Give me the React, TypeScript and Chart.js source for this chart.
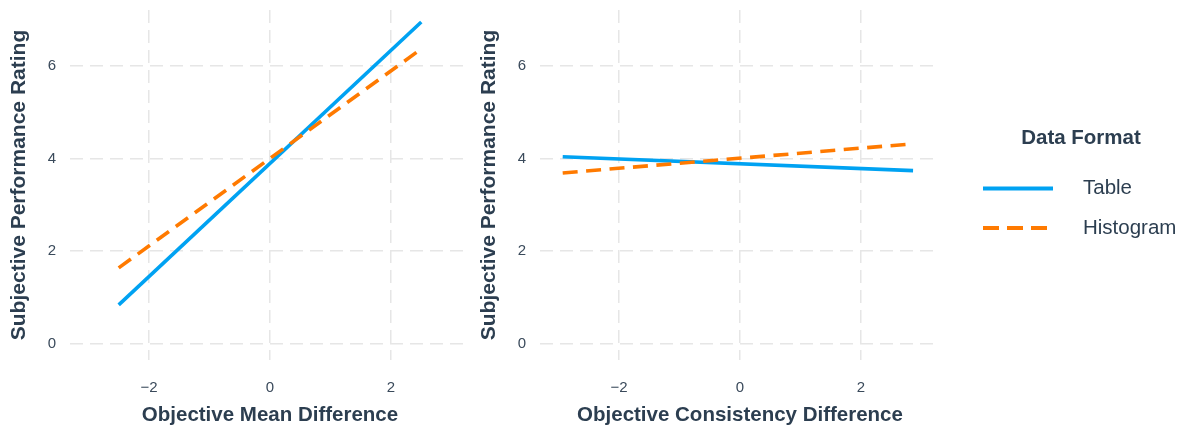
import React, { useEffect, useRef } from "react";
import { Chart, registerables } from "chart.js";

Chart.register(...registerables);

// ---- data ----
const meanX = [-2.5, 2.5];
const meanTable = [0.84, 6.95];
const meanHistogram = [1.64, 6.37];

const consX = [-2.93, 2.86];
const consTable = [4.04, 3.74];
const consHistogram = [3.69, 4.32];

const xTicks = [-2, 0, 2];
const yTicks = [0, 2, 4, 6];
const seriesLabels = ["Table", "Histogram"];
const legendTitle = "Data Format";
const yTitle = "Subjective Performance Rating";
const xTitleMean = "Objective Mean Difference";
const xTitleCons = "Objective Consistency Difference";

// ---- styles ----
const BLUE = "#00A2F2";
const ORANGE = "#FF7A00";
const FONT = "'Liberation Sans', Arial, Helvetica, sans-serif";
const TEXT = "#2C3E50";
const TICK = "#3A4A5B";
const GRID = "#E6E6E6";

const fmt = (v: number) => (v < 0 ? "\u2212" + Math.abs(v) : String(v));

const legendPlugin = {
  id: "sideLegend",
  afterDraw(chart: any, _args: any, opts: any) {
    if (!opts || !opts.show) return;
    const ctx = chart.ctx;
    const r = chart.chartArea.right;
    ctx.save();
    ctx.fillStyle = TEXT;
    ctx.font = `bold 20.5px ${FONT}`;
    ctx.textAlign = "center";
    ctx.textBaseline = "middle";
    ctx.fillText(legendTitle, r + 141, 138.5);
    seriesLabels.forEach((lab, i) => {
      const ds = chart.data.datasets.find((d: any) => d.label === lab);
      if (!ds) return;
      const y = 188.5 + i * 39.5;
      ctx.strokeStyle = ds.borderColor;
      ctx.lineWidth = 4;
      ctx.lineCap = "butt";
      ctx.setLineDash(ds.borderDash && ds.borderDash.length ? [16, 8] : []);
      ctx.beginPath();
      ctx.moveTo(r + 43, y);
      ctx.lineTo(r + 113, y);
      ctx.stroke();
      ctx.setLineDash([]);
      ctx.font = `20.5px ${FONT}`;
      ctx.textAlign = "left";
      ctx.fillStyle = TEXT;
      ctx.fillText(lab, r + 143, y);
    });
    ctx.restore();
  },
};

const zeroPad = (s: any) => {
  s.paddingTop = 0;
  s.paddingBottom = 0;
  s.paddingLeft = 0;
  s.paddingRight = 0;
};

function makeConfig(
  xs: number[],
  table: number[],
  hist: number[],
  xTitle: string,
  withLegend: boolean
): any {
  return {
    type: "line",
    data: {
      datasets: [
        {
          label: seriesLabels[0],
          data: xs.map((x, i) => ({ x, y: table[i] })),
          borderColor: BLUE,
          backgroundColor: BLUE,
          borderWidth: 3.6,
          pointRadius: 0,
          fill: false,
          tension: 0,
          order: 1,
        },
        {
          label: seriesLabels[1],
          data: xs.map((x, i) => ({ x, y: hist[i] })),
          borderColor: ORANGE,
          backgroundColor: ORANGE,
          borderWidth: 3.6,
          borderDash: [15, 8.5],
          pointRadius: 0,
          fill: false,
          tension: 0,
          order: 0,
        },
      ],
    },
    plugins: [legendPlugin],
    options: {
      responsive: false,
      animation: false,
      layout: { padding: { top: 10, left: 0, right: withLegend ? 242 : 0, bottom: 0 } },
      plugins: {
        legend: { display: false },
        tooltip: { enabled: false },
        sideLegend: { show: withLegend },
      },
      scales: {
        x: {
          type: "linear",
          min: -3.305,
          max: 3.305,
          afterBuildTicks: (s: any) => {
            s.ticks = xTicks.map((v) => ({ value: v }));
          },
          afterFit: (s: any) => {
            s.height = 73;
            zeroPad(s);
          },
          ticks: {
            callback: (v: any) => fmt(Number(v)),
            font: { family: FONT, size: 15 },
            color: TICK,
            padding: 19,
            maxRotation: 0,
            autoSkip: false,
          },
          grid: { color: GRID, lineWidth: 1.5, drawTicks: false },
          border: { display: false, dash: [13, 7] },
          title: {
            display: true,
            text: xTitle,
            color: TEXT,
            font: { family: FONT, size: 20.5, weight: "bold" },
            padding: { top: 0, bottom: 5 },
          },
        },
        y: {
          type: "linear",
          min: -0.35,
          max: 7.21,
          afterBuildTicks: (s: any) => {
            s.ticks = yTicks.map((v) => ({ value: v }));
          },
          afterFit: (s: any) => {
            s.width = 70;
            zeroPad(s);
          },
          ticks: {
            callback: (v: any) => fmt(Number(v)),
            font: { family: FONT, size: 15 },
            color: TICK,
            padding: 14,
            autoSkip: false,
          },
          grid: { color: GRID, lineWidth: 1.5, drawTicks: false },
          border: { display: false, dash: [13, 7] },
          title: {
            display: true,
            text: yTitle,
            color: TEXT,
            font: { family: FONT, size: 21, weight: "bold" },
            padding: { top: 7, bottom: 0 },
          },
        },
      },
    },
  };
}

function Panel(props: {
  left: number;
  width: number;
  xs: number[];
  table: number[];
  hist: number[];
  xTitle: string;
  withLegend: boolean;
}) {
  const ref = useRef<HTMLCanvasElement | null>(null);
  useEffect(() => {
    if (!ref.current) return;
    const chart = new Chart(
      ref.current,
      makeConfig(props.xs, props.table, props.hist, props.xTitle, props.withLegend)
    );
    return () => chart.destroy();
  }, []);
  return (
    <canvas
      ref={ref}
      width={props.width}
      height={433}
      style={{
        position: "absolute",
        left: props.left,
        top: 0,
        width: props.width,
        height: 433,
        display: "block",
      }}
    />
  );
}

export default function App() {
  return (
    <div
      style={{
        position: "absolute",
        left: 0,
        top: 0,
        width: 1182,
        height: 433,
        background: "#ffffff",
        overflow: "hidden",
      }}
    >
      <Panel
        left={0}
        width={470}
        xs={meanX}
        table={meanTable}
        hist={meanHistogram}
        xTitle={xTitleMean}
        withLegend={false}
      />
      <Panel
        left={470}
        width={712}
        xs={consX}
        table={consTable}
        hist={consHistogram}
        xTitle={xTitleCons}
        withLegend={true}
      />
    </div>
  );
}
